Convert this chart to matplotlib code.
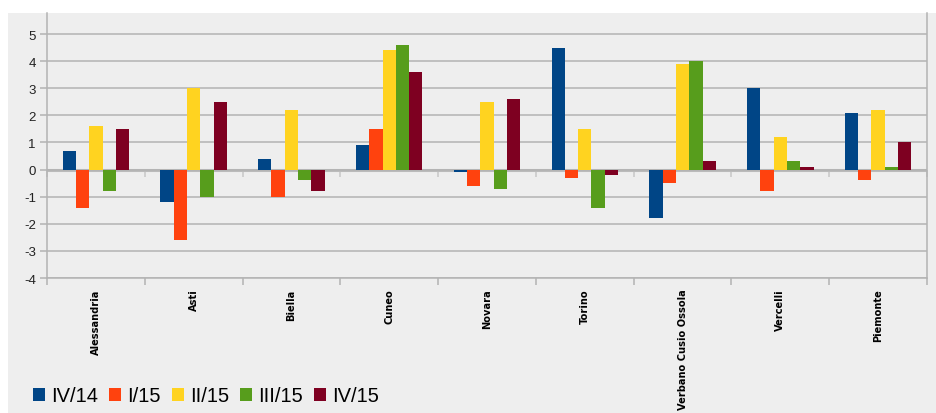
import numpy as np
import matplotlib.pyplot as plt
from matplotlib.patches import Rectangle

province = ["Alessandria", "Asti", "Biella", "Cuneo", "Novara", "Torino",
            "Verbano Cusio Ossola", "Vercelli", "Piemonte"]
trimestri = ["IV/14", "I/15", "II/15", "III/15", "IV/15"]

iv_14 = [0.7, -1.2, 0.4, 0.9, -0.1, 4.5, -1.8, 3.0, 2.1]
i_15 = [-1.4, -2.6, -1.0, 1.5, -0.6, -0.3, -0.5, -0.8, -0.4]
ii_15 = [1.6, 3.0, 2.2, 4.4, 2.5, 1.5, 3.9, 1.2, 2.2]
iii_15 = [-0.8, -1.0, -0.4, 4.6, -0.7, -1.4, 4.0, 0.3, 0.1]
iv_15 = [1.5, 2.5, -0.8, 3.6, 2.6, -0.2, 0.3, 0.1, 1.0]

serie = [iv_14, i_15, ii_15, iii_15, iv_15]
colori = ["#004586", "#ff420e", "#ffd320", "#579d1c", "#7e0021"]

bg = "#eeeeee"
grid_c = "#b3b3b3"

fig = plt.figure(figsize=(9.36, 4.14), dpi=100, facecolor="white")
# pannello grigio di sfondo
fig.patches.append(Rectangle((8 / 936, 0), 1, 1 - 14 / 414, transform=fig.transFigure,
                             facecolor=bg, edgecolor="none", zorder=-10))

ax = fig.add_axes([47 / 936, 1 - 279 / 414, 880 / 936, 265 / 414])
ax.set_facecolor(bg)

x = np.arange(len(province))
w = 0.136
for i, (vals, col, lab) in enumerate(zip(serie, colori, trimestri)):
    ax.bar(x + (i - 2) * w, vals, width=w, color=col, label=lab, zorder=3)

ax.set_xlim(-0.5, len(province) - 0.5)
ax.set_ylim(-4, 5.775)
ax.set_yticks(range(-4, 6))
ax.set_yticklabels([str(v) for v in range(-4, 6)], fontsize=9.5,
                   family="Liberation Sans", color="#222222")
ax.yaxis.grid(True, color=grid_c, linewidth=1.1, zorder=0)
ax.axhline(0, color="#bbbbbb", linewidth=2.2, zorder=1)

ax.set_xticks(np.arange(-0.5, len(province), 1.0))
ax.set_xticklabels([])
ax.tick_params(axis="x", length=5, color=grid_c, width=1.1)
ax.tick_params(axis="y", length=5, color=grid_c, width=1.1, pad=3)

for sp in ["top"]:
    ax.spines[sp].set_visible(False)
for sp in ["left", "right", "bottom"]:
    ax.spines[sp].set_color(grid_c)
    ax.spines[sp].set_linewidth(1.1)

# etichette delle categorie
for xi, name in zip(x, province):
    ax.text(xi, -4.38, name, rotation=90, ha="center", va="top",
            fontsize=7.1, fontweight="bold", family="DejaVu Sans")

# tacche sull'asse dello zero
sec = ax.secondary_xaxis(4 / 9.775)
sec.set_xticks(np.arange(-0.5, len(province), 1.0))
sec.set_xticklabels([])
sec.tick_params(axis="x", length=5, color="#c8c8c8", width=1.1)
sec.spines["bottom"].set_visible(False)

fig.legend(loc="center left", bbox_to_anchor=(33 / 936, 1 - 397 / 414), ncol=5,
           frameon=False, prop={"family": "Liberation Sans", "size": 14.5},
           handlelength=0.6, handleheight=0.6, handletextpad=0.3,
           columnspacing=0.55, borderaxespad=0, borderpad=0)

fig.savefig("out.png", dpi=100, facecolor="white")
